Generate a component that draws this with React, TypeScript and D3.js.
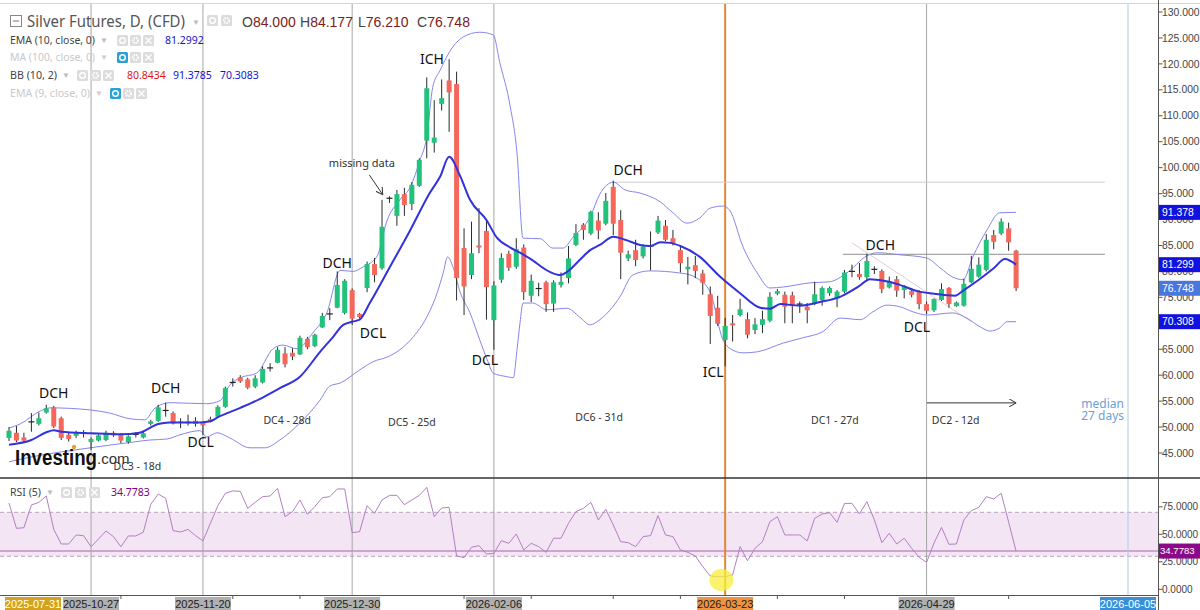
import React from 'react';
import * as d3 from 'd3';

const opens = [47.9,48.9,48.0,50.8,50.6,52.8,53.8,51.7,48.5,48.3,48.8,47.1,47.4,47.5,48.9,48.5,47.1,48.5,48.0,50.6,51.2,53.1,52.7,50.6,50.7,51.2,50.8,51.5,52.0,53.9,58.5,59.6,59.2,57.8,58.6,61.3,62.4,64.2,64.3,64.0,67.0,65.6,69.2,71.7,73.0,72.0,76.4,71.8,76.8,81.4,80.6,93.9,90.7,94.9,93.0,96.5,105.2,104.8,112.3,116.8,116.1,84.5,79.3,85.0,87.8,70.6,78.4,83.4,80.9,84.6,75.3,76.6,77.9,73.8,77.4,78.7,85.1,89.0,87.3,89.8,89.2,96.3,89.9,82.5,84.1,82.9,84.8,87.5,88.8,86.4,84.1,80.4,81.2,79.6,75.6,73.0,66.8,70.0,71.6,70.8,68.7,69.7,70.5,75.7,75.5,75.4,73.8,73.2,73.9,74.5,75.8,74.8,76.1,79.9,79.5,78.9,80.3,80.1,76.9,78.5,76.4,76.2,76.2,73.7,72.5,74.5,76.8,73.3,73.4,77.9,79.0,80.3,87.0,87.3,88.3,84.0];
const highs = [50.0,50.2,48.9,52.7,52.8,54.3,54.1,52.0,48.9,49.3,49.4,48.0,48.6,49.3,49.2,48.8,48.4,49.0,49.1,51.4,54.3,54.7,53.0,51.7,52.4,51.9,51.0,52.0,54.2,57.8,59.4,60.0,59.5,60.0,61.7,62.3,65.4,65.4,65.2,67.6,67.4,68.0,72.0,72.9,80.0,78.5,76.7,72.0,81.9,82.6,93.8,94.5,95.7,96.1,97.2,101.8,117.4,113.0,117.0,120.9,118.5,88.3,89.6,92.2,89.9,78.1,83.5,84.0,86.4,85.2,79.4,77.8,78.2,78.3,79.8,84.9,89.1,89.3,91.7,91.4,95.1,97.5,91.8,84.0,86.1,85.2,87.7,90.7,89.9,88.0,85.0,82.8,83.0,80.3,77.1,75.3,71.0,71.6,74.7,72.1,71.0,72.4,76.0,76.6,76.1,76.1,74.2,73.9,78.0,77.1,77.1,76.4,80.3,81.3,81.6,83.4,81.0,80.4,79.0,79.1,77.4,76.7,76.4,74.2,74.8,77.7,77.0,74.2,78.6,83.0,82.7,87.2,88.0,90.2,89.4,84.177];
const lows = [47.3,47.1,46.9,49.1,50.3,52.6,49.8,47.5,47.2,47.9,48.0,45.6,47.2,47.3,48.1,46.9,46.8,48.0,47.8,50.3,51.0,52.0,50.5,49.8,50.3,50.1,48.5,50.9,51.8,53.7,57.8,58.5,57.3,57.5,58.4,60.7,62.3,61.5,62.9,63.9,65.0,65.4,69.1,70.6,72.9,71.7,69.7,70.9,76.0,77.9,80.3,93.2,88.8,90.7,91.8,96.3,101.8,102.9,111.0,106.9,74.4,71.6,78.5,83.5,70.7,64.9,77.8,80.1,80.5,74.5,74.1,75.2,72.2,72.2,76.9,77.7,84.9,86.1,87.0,86.2,88.9,87.0,78.5,82.0,81.0,82.5,80.2,87.2,85.8,85.0,79.8,77.5,78.7,75.5,66.0,69.5,61.7,66.5,71.3,67.1,67.9,68.1,70.2,75.4,70.0,70.0,72.0,70.0,73.5,73.4,75.3,73.1,75.8,78.9,78.4,78.4,79.5,75.8,76.7,75.1,74.8,75.0,72.7,71.8,72.2,74.3,73.0,73.2,73.2,77.7,78.8,80.0,84.3,87.0,84.0,76.21];
const closes = [49.3,47.4,47.4,51.0,51.7,53.6,50.1,47.9,47.7,48.8,48.9,47.7,48.4,48.9,48.4,47.4,48.2,48.6,48.8,51.1,53.8,53.2,50.7,50.9,51.1,50.6,50.3,51.1,53.9,57.5,58.6,58.8,57.6,59.4,61.2,61.4,64.9,62.1,63.6,67.2,65.4,67.8,71.4,71.8,77.4,78.2,70.9,71.2,81.4,79.3,88.6,94.1,94.9,92.8,96.7,101.5,115.3,105.8,113.4,114.5,78.7,77.1,83.5,84.6,77.0,77.3,82.6,80.7,84.3,76.0,78.2,76.7,73.7,77.9,78.0,82.5,87.4,88.0,91.5,87.9,93.6,89.2,83.6,83.3,82.2,84.8,84.9,89.8,86.1,85.4,81.6,80.9,80.1,77.8,71.4,69.9,69.5,69.6,72.7,67.8,69.8,70.8,75.1,76.2,73.2,73.3,73.7,72.5,75.6,76.8,76.8,76.1,79.8,80.0,78.9,82.0,80.4,76.6,78.0,76.3,77.2,75.5,73.7,72.4,74.7,76.6,73.7,74.0,77.6,80.5,81.3,86.1,85.7,89.6,85.6,76.748];

const rsiValues = [78.4,55.4,56.0,76.6,79.0,84.8,54.5,41.2,41.2,49.4,48.7,38.7,45.7,53.0,47.9,38.7,48.5,48.5,51.8,77.2,86.6,82.7,53.3,52.1,54.5,48.8,44.0,60.0,76.0,87.3,89.4,89.1,73.6,79.1,84.2,84.8,91.8,66.0,70.6,81.2,68.2,75.2,83.3,84.2,91.2,91.2,51.5,52.4,76.0,69.1,81.2,85.4,85.4,76.9,81.2,85.4,92.7,66.0,73.9,74.5,30.3,28.8,38.2,39.7,32.1,32.7,44.2,41.8,50.3,35.8,41.8,38.8,33.6,46.4,46.4,60.0,70.6,73.6,79.1,63.0,72.7,58.5,43.3,42.4,38.8,47.9,48.8,67.0,49.4,47.9,35.8,33.6,30.3,20.6,12.1,11.5,11.5,13.0,38.8,26.0,37.3,43.3,61.5,66.0,49.4,49.4,49.4,44.0,64.5,68.5,69.7,60.9,78.1,78.1,68.5,79.7,63.1,42.4,50.9,41.2,46.4,37.3,29.1,24.5,42.1,56.3,40.9,41.2,63.1,71.5,74.5,84.2,82.1,87.3,61.0,34.7783];

const emaPoints: [number, number][] = [[0,46.6],[3,47.5],[5,49.0],[6,49.4],[7,49.1],[11,48.8],[15,48.6],[17.5,48.9],[20,50.6],[21.5,50.9],[25.6,50.9],[27,51.1],[28,51.9],[31,53.7],[33.6,55.4],[36.3,57.5],[39,59.7],[41.7,64.5],[43.4,67.3],[44.8,69.7],[46,70.3],[47,70.7],[48.4,74.0],[51,80.7],[53.8,88.0],[56.4,95.1],[57.8,98.3],[59,102.1],[60.5,98.3],[61.8,93.8],[64,89.9],[65.4,86.5],[67.2,84.6],[68.5,83.6],[69.8,82.5],[72.5,79.9],[73.9,79.3],[74.8,79.9],[76.5,82.2],[77.9,84.1],[79.2,85.1],[81,86.7],[82.6,86.1],[84.6,85.1],[86,84.9],[87.3,85.6],[88.6,85.5],[90,84.9],[92.6,82.8],[95.3,79.0],[98,75.8],[100.7,73.0],[102,72.8],[103.4,73.7],[106,73.4],[108.7,74.1],[111.4,75.1],[114,77.2],[115.4,78.5],[118,78.0],[119.4,77.4],[122,76.1],[124,75.7],[126.8,75.3],[128,76.4],[130,78.4],[132,80.6],[133.5,82.4],[135,81.3]];

const bbUpperPoints: [number, number][] = [[0,49.8],[1.5,50.6],[4.2,53.1],[5.5,53.7],[10.9,53.3],[13.5,52.7],[16.2,51.6],[18.2,51.4],[19.6,53.7],[21.6,54.7],[26.5,54.5],[28.3,55.1],[29.6,58.1],[31,59.5],[33.2,60.4],[35.4,65.1],[36.7,65.8],[38.6,65.1],[40.8,68.3],[42.6,72.0],[44.4,80.2],[46.1,80.0],[47.5,80.9],[49.3,82.8],[50.7,89.9],[52.4,93.8],[53.8,96.3],[55.1,101.5],[56,105.9],[56.8,115.5],[57.8,118.8],[59.5,123.3],[60.9,125.2],[63.1,126.1],[64.9,125.6],[65.8,120.2],[67.2,111.7],[68.1,102.8],[68.9,86.4],[71.2,86.3],[72.9,84.5],[74.3,84.5],[75.6,86.6],[77.9,90.5],[79.2,94.9],[81,97.2],[82.6,95.7],[84.6,95.1],[87.3,93.4],[89,91.3],[90.9,89.3],[92.6,90.3],[94,92.2],[95.7,92.6],[96.6,91.8],[98.4,84.7],[100.3,79.7],[102,76.8],[103.8,77.0],[107.4,77.8],[110,78.0],[112.3,79.7],[115,83.0],[116.4,83.6],[119.4,83.2],[123,82.6],[124.8,80.7],[126.5,78.9],[127.9,78.4],[129.2,82.8],[131.1,88.0],[132.8,91.3],[135,91.3785]];

const bbLowerPoints: [number, number][] = [[0,43.3],[3.2,44.3],[10.9,46.0],[16.6,47.1],[18.9,47.5],[21.2,47.7],[22.9,48.5],[25.6,49.3],[26.5,48.1],[27.9,48.9],[29.6,47.9],[32.3,46.0],[34.3,46.0],[36.3,47.5],[39,50.8],[41.7,55.2],[43,57.9],[44.4,58.5],[47,61.0],[48.8,62.6],[50.7,63.5],[52.4,64.9],[54.2,67.4],[56,71.2],[57.4,75.9],[58.2,79.7],[58.8,82.8],[59.5,80.9],[60.5,75.9],[61.8,72.0],[63.1,66.8],[64.1,63.0],[64.9,60.4],[66.8,59.7],[67.6,59.5],[68.1,64.9],[68.5,70.1],[68.9,73.9],[70.2,73.9],[72.1,72.6],[74.8,72.9],[76.5,71.2],[77.9,69.7],[79.2,70.7],[81.9,75.1],[83.6,79.3],[85.9,80.1],[89.9,79.7],[91.7,79.1],[92.2,78.7],[94,76.0],[95.7,66.8],[96.6,65.2],[98.4,64.3],[100.3,64.5],[103.8,66.2],[106.4,67.2],[109.1,68.4],[111.4,71.0],[114.1,70.7],[115.8,72.2],[117.7,73.5],[119.4,73.2],[121.2,72.2],[123.1,71.6],[126.5,72.0],[128.4,71.0],[130.2,69.3],[131.5,68.5],[132.8,69.1],[133.8,70.3],[135,70.3083]];

const priceTicks = [45,50,55,60,65,70,75,80,85,90,95,100,105,110,115,120,125,130];
const rsiTicks = [0,25,50,75];
const dateLabels = ['2025-07-31','2025-10-27','2025-11-20','2025-12-30','2026-02-06','2026-03-23','2026-04-29','2026-06-05'];
const dateIdx = [0,11,26,46,65,96,123,150];
const dateKinds = ['gold','gray','gray','gray','gray','orange','gray','blue'];
const minorTickIdx = [15,30,39,61,70,81,90,103,112,134];
const grayLineIdx = [11,26,46,65,123];

const annText = ['DCH','DCH','DCL','DCH','DCL','ICH','DCL','DCH','ICL','DCH','DCL'];
const annIdx = [6.0,21.0,25.7,44.0,48.8,56.7,63.8,83.0,94.4,116.8,121.7];
const annPrice = [55.6,56.6,46.2,80.7,67.2,120.0,62.0,98.6,59.7,84.1,68.3];
const cycleText = ['DC3 - 18d','DC4 - 28d','DC5 - 25d','DC6 - 31d','DC1 - 27d','DC2 - 12d'];
const cycleIdx = [17.2,37.3,54.0,79.1,110.7,126.9];
const cyclePrice = [41.75,50.6,50.2,51.2,50.6,50.6];

const lastValues = [91.378, 81.299, 76.748, 70.308];
const lastColors = ['#1212e0','#1212e0','#4a76e0','#1212e0'];

const FONT = '"Noto Sans", "DejaVu Sans", sans-serif';
const AX = 'Arial, "Liberation Sans", sans-serif';

function Icon({ x, y, kind, blue }: { x: number; y: number; kind: string; blue?: boolean }) {
  const bg = blue ? '#2ea0d8' : '#dcdcdc';
  return (
    <g transform={`translate(${x},${y})`}>
      <rect width={11} height={11} rx={1.5} fill={bg} />
      {kind === 'eye' && <circle cx={5.5} cy={5.5} r={2.8} fill="none" stroke="#fff" strokeWidth={1.4} />}
      {kind === 'gear' && <circle cx={5.5} cy={5.5} r={2.6} fill="none" stroke="#fff" strokeWidth={2} strokeDasharray="1.5 1" />}
      {kind === 'x' && <path d="M2.5,2.5L8.5,8.5M8.5,2.5L2.5,8.5" stroke="#fff" strokeWidth={1.4} />}
    </g>
  );
}

export default function App() {
  const x = d3.scaleLinear().domain([0, 150]).range([9, 1128]);
  const y = d3.scaleLinear().domain([45, 130]).range([453, 12]);
  const yr = d3.scaleLinear().domain([0, 100]).range([589.3, 479.3]);
  const pts = d3.line<[number, number]>().x(d => x(d[0])).y(d => y(d[1])).curve(d3.curveMonotoneX);
  const rsiLine = d3.line<number>().x((_, i) => x(i)).y(d => yr(d));
  const axisX = 1158.5;
  const bw = 5;

  const candles = opens.map((o, i) => {
    const c = closes[i];
    const cx = x(i);
    const yo = y(o), yc = y(c);
    const up = c >= o;
    const top = Math.min(yo, yc), h = Math.abs(yo - yc);
    const doji = h < 1.6;
    return (
      <g key={i}>
        <line x1={cx} x2={cx} y1={y(highs[i])} y2={y(lows[i])} stroke="#2a2a2a" strokeWidth={1} />
        {doji
          ? <line x1={cx - bw / 2 - 0.5} x2={cx + bw / 2 + 0.5} y1={yc} y2={yc} stroke="#222" strokeWidth={1.2} />
          : <rect x={cx - bw / 2} y={top} width={bw} height={h} fill={up ? '#22c27c' : '#f4685c'} />}
      </g>
    );
  });

  const dateBox = (t: string, i: number, k: string) => {
    const cx = x(dateIdx[i]);
    const w = 56;
    let bx = cx - w / 2;
    if (bx < 5) bx = 5;
    const bg = k === 'gold' ? '#d4a21c' : k === 'orange' ? '#ef9340' : k === 'blue' ? '#3b8fd8' : '#b0b0b0';
    const fg = k === 'gold' || k === 'blue' ? '#fff' : '#222';
    return (
      <g key={t}>
        <rect x={bx} y={597} width={w} height={14} fill={bg} />
        <text x={bx + w / 2} y={608} textAnchor="middle" fontSize={11} fontFamily={AX} fill={fg}>{t}</text>
      </g>
    );
  };

  return (
    <svg width={1200} height={610} style={{ position: 'absolute', left: 0, top: 0, background: '#fff' }} xmlns="http://www.w3.org/2000/svg">
      <rect width={1200} height={610} fill="#fff" />
      <line x1={0} x2={1200} y1={3.5} y2={3.5} stroke="#d6d6d6" />

      {/* RSI band */}
      <rect x={0} y={yr(70)} width={axisX} height={yr(30) - yr(70)} fill="#f3e5f3" />
      <line x1={0} x2={axisX} y1={yr(70)} y2={yr(70)} stroke="#b8a4b8" strokeDasharray="4 3" />
      <line x1={0} x2={axisX} y1={yr(30)} y2={yr(30)} stroke="#b8a4b8" strokeDasharray="4 3" />
      <line x1={0} x2={axisX} y1={yr(34.7783)} y2={yr(34.7783)} stroke="#c28fc2" strokeWidth={1.5} />

      {/* vertical lines */}
      {grayLineIdx.map(i => (
        <line key={i} x1={x(i)} x2={x(i)} y1={4} y2={596} stroke="#a6a6a6" strokeWidth={1} />
      ))}
      <line x1={x(96)} x2={x(96)} y1={4} y2={596} stroke="#dd8a36" strokeWidth={2} />
      <line x1={x(150)} x2={x(150)} y1={4} y2={596} stroke="#a9cbea" strokeWidth={1} />

      {/* annotation lines */}
      <line x1={x(81)} x2={x(146.9)} y1={y(97.2)} y2={y(97.2)} stroke="#cfcfcf" />
      <line x1={x(111.8)} x2={x(146.9)} y1={y(83.3)} y2={y(83.3)} stroke="#8f8f8f" />
      <line x1={x(113)} x2={x(129)} y1={y(85.5)} y2={y(70.3)} stroke="#e6cccc" />

      {/* Bollinger bands */}
      <path d={pts(bbUpperPoints) || ''} fill="none" stroke="#8585ee" strokeWidth={1} />
      <path d={pts(bbLowerPoints) || ''} fill="none" stroke="#8585ee" strokeWidth={1} />

      {candles}

      {/* EMA */}
      <path d={pts(emaPoints) || ''} fill="none" stroke="#3232dc" strokeWidth={2} />

      {/* Investing logo */}
      <text x={15} y={465} fontFamily={AX} fontWeight={900} fontSize={22} fill="#111" textLength={82} lengthAdjust="spacingAndGlyphs">Investing</text>
      <circle cx={74} cy={447} r={2.2} fill="#f0a030" />
      <text x={97} y={464} fontFamily={AX} fontSize={15} fill="#333">.com</text>

      {/* annotations */}
      {annText.map((t, i) => (
        <text key={'a' + i} x={x(annIdx[i])} y={y(annPrice[i])} textAnchor="middle" fontFamily={FONT} fontSize={14} fill="#111">{t}</text>
      ))}
      {cycleText.map((t, i) => (
        <text key={'c' + i} x={x(cycleIdx[i])} y={y(cyclePrice[i])} textAnchor="middle" fontFamily={FONT} fontSize={10.5} fill="#333">{t}</text>
      ))}
      <text x={x(47.3)} y={y(100.1)} textAnchor="middle" fontFamily={FONT} fontSize={11} fill="#333">missing data</text>
      <defs>
        <marker id="ah" markerWidth={8} markerHeight={8} refX={7} refY={4} orient="auto" markerUnits="userSpaceOnUse">
          <path d="M0,0 L7,4 L0,8" fill="none" stroke="#333" strokeWidth={1} />
        </marker>
      </defs>
      <line x1={x(48.3)} y1={y(98.6)} x2={x(50.1)} y2={y(94.8)} stroke="#333" strokeWidth={1} markerEnd="url(#ah)" />
      <line x1={x(123.05)} y1={y(54.66)} x2={x(135)} y2={y(54.66)} stroke="#333" strokeWidth={1} markerEnd="url(#ah)" />
      <text x={x(146.6)} y={y(53.7)} textAnchor="middle" fontFamily={FONT} fontSize={12} fill="#6a9fd6">median</text>
      <text x={x(146.6)} y={y(51.4)} textAnchor="middle" fontFamily={FONT} fontSize={12} fill="#6a9fd6">27 days</text>

      {/* RSI line */}
      <path d={rsiLine(rsiValues) || ''} fill="none" stroke="#b47fc4" strokeWidth={1} />
      <ellipse cx={x(95.5)} cy={yr(8.5)} rx={12} ry={11} fill="#f7ef3a" opacity={0.75} />

      {/* pane separators and axes */}
      <line x1={0} x2={1200} y1={478} y2={478} stroke="#333" strokeWidth={1.5} />
      <line x1={0} x2={axisX} y1={595.5} y2={595.5} stroke="#555" strokeWidth={1} />
      <line x1={axisX} x2={axisX} y1={0} y2={610} stroke="#555" strokeWidth={1} />
      {minorTickIdx.map(i => (
        <line key={'m' + i} x1={x(i)} x2={x(i)} y1={595.5} y2={599} stroke="#555" />
      ))}

      {priceTicks.map(t => (
        <g key={'p' + t}>
          <line x1={axisX} x2={axisX + 4} y1={y(t)} y2={y(t)} stroke="#555" />
          <text x={1162} y={y(t)} dy="0.35em" fontFamily={AX} fontSize={10.4} fill="#444">{t.toFixed(3)}</text>
        </g>
      ))}
      {rsiTicks.map(t => (
        <g key={'r' + t}>
          <line x1={axisX} x2={axisX + 4} y1={yr(t)} y2={yr(t)} stroke="#555" />
          <text x={1162} y={yr(t)} dy="0.35em" fontFamily={AX} fontSize={10} fill="#444">{t.toFixed(4)}</text>
        </g>
      ))}

      {lastValues.map((v, i) => (
        <g key={'lv' + i}>
          <rect x={1159} y={y(v) - 7.5} width={41} height={15} fill={lastColors[i]} />
          <text x={1162} y={y(v)} dy="0.36em" fontFamily={AX} fontSize={10.4} fill="#fff">{v.toFixed(3)}</text>
        </g>
      ))}
      <rect x={1159} y={yr(34.7783) - 7.5} width={41} height={15} fill="#8a0a8a" />
      <text x={1160} y={yr(34.7783)} dy="0.36em" fontFamily={AX} fontSize={9.6} fill="#fff">34.7783</text>

      {dateLabels.map((t, i) => dateBox(t, i, dateKinds[i]))}

      {/* header */}
      <rect x={10.5} y={15.5} width={11} height={11} fill="#fff" stroke="#888" />
      <line x1={13} x2={19} y1={21} y2={21} stroke="#777" />
      <text x={27} y={27} fontFamily={FONT} fontSize={16} fill="#555" textLength={158} lengthAdjust="spacingAndGlyphs">Silver Futures, D, (CFD)</text>
      <text x={192} y={25} fontFamily={AX} fontSize={8} fill="#bbb">▼</text>
      <Icon x={207} y={15} kind="eye" />
      <Icon x={221} y={15} kind="gear" />
      <text x={242} y={27} fontFamily={AX} fontSize={14}>
        <tspan fill="#444">O</tspan><tspan fill="#7a2020">84.000</tspan>
      </text>
      <text x={300} y={27} fontFamily={AX} fontSize={14}>
        <tspan fill="#444">H</tspan><tspan fill="#7a2020">84.177</tspan>
      </text>
      <text x={358} y={27} fontFamily={AX} fontSize={14}>
        <tspan fill="#444">L</tspan><tspan fill="#7a2020">76.210</tspan>
      </text>
      <text x={417} y={27} fontFamily={AX} fontSize={14}>
        <tspan fill="#444">C</tspan><tspan fill="#7a2020">76.748</tspan>
      </text>

      <text x={10} y={44} fontFamily={FONT} fontSize={10.5} fill="#444" textLength={85} lengthAdjust="spacingAndGlyphs">EMA (10, close, 0)</text>
      <text x={100} y={43} fontFamily={AX} fontSize={8} fill="#bbb">▼</text>
      <Icon x={117} y={35} kind="eye" />
      <Icon x={130} y={35} kind="gear" />
      <Icon x={143} y={35} kind="x" />
      <text x={165} y={44} fontFamily={FONT} fontSize={10.5} fill="#1515cc">81.2992</text>

      <text x={10} y={61} fontFamily={FONT} fontSize={10.5} fill="#c9c9c9" textLength={85} lengthAdjust="spacingAndGlyphs">MA (100, close, 0)</text>
      <text x={100} y={60} fontFamily={AX} fontSize={8} fill="#ccc">▼</text>
      <Icon x={117} y={52} kind="eye" blue />
      <Icon x={130} y={52} kind="gear" />
      <Icon x={143} y={52} kind="x" />

      <text x={10} y={79} fontFamily={FONT} fontSize={10.5} fill="#444" textLength={47} lengthAdjust="spacingAndGlyphs">BB (10, 2)</text>
      <text x={62} y={78} fontFamily={AX} fontSize={8} fill="#bbb">▼</text>
      <Icon x={77} y={70} kind="eye" />
      <Icon x={90} y={70} kind="gear" />
      <Icon x={103} y={70} kind="x" />
      <text x={127} y={79} fontFamily={FONT} fontSize={10.5} fill="#e01515">80.8434</text>
      <text x={173} y={79} fontFamily={FONT} fontSize={10.5} fill="#1515cc">91.3785</text>
      <text x={220} y={79} fontFamily={FONT} fontSize={10.5} fill="#1515cc">70.3083</text>

      <text x={10} y={97} fontFamily={FONT} fontSize={10.5} fill="#c9c9c9" textLength={80} lengthAdjust="spacingAndGlyphs">EMA (9, close, 0)</text>
      <text x={95} y={96} fontFamily={AX} fontSize={8} fill="#ccc">▼</text>
      <Icon x={110} y={88} kind="eye" blue />
      <Icon x={123} y={88} kind="gear" />
      <Icon x={136} y={88} kind="x" />

      <text x={10} y={496} fontFamily={FONT} fontSize={10.5} fill="#444" textLength={31} lengthAdjust="spacingAndGlyphs">RSI (5)</text>
      <text x={46} y={495} fontFamily={AX} fontSize={8} fill="#bbb">▼</text>
      <Icon x={61} y={487} kind="eye" />
      <Icon x={75} y={487} kind="gear" />
      <Icon x={89} y={487} kind="x" />
      <text x={111} y={496} fontFamily={FONT} fontSize={10.5} fill="#800080">34.7783</text>
    </svg>
  );
}
